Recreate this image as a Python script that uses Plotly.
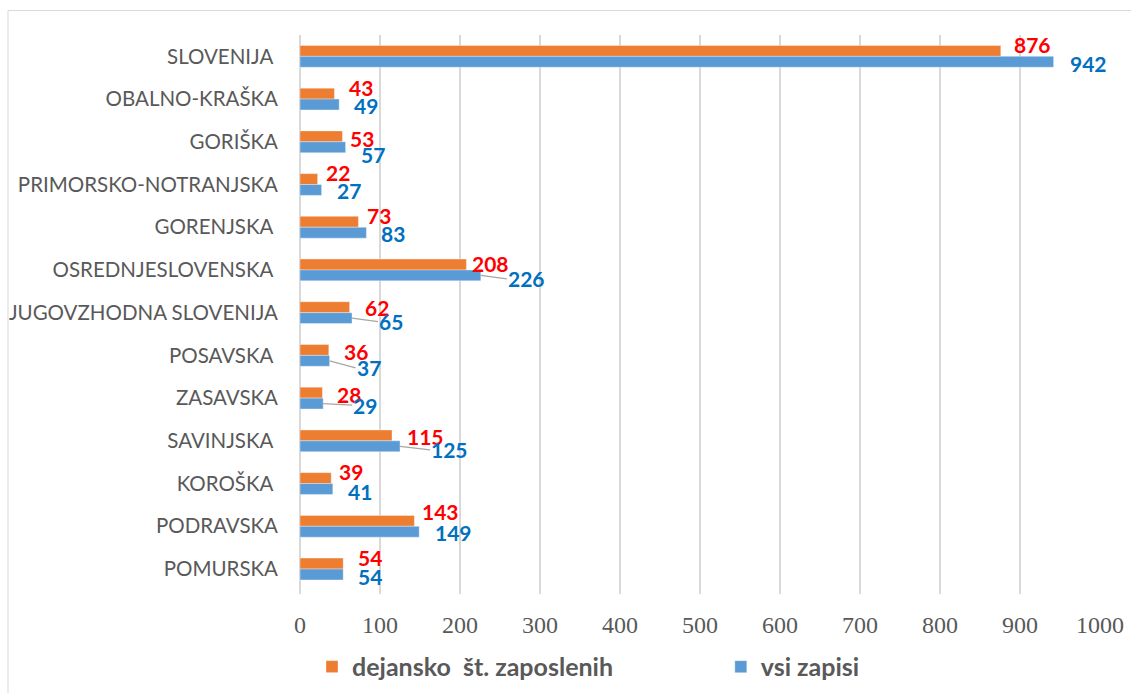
import plotly.graph_objects as go

# ---- data (top to bottom as displayed) ----
categories = ["SLOVENIJA", "OBALNO-KRAŠKA", "GORIŠKA", "PRIMORSKO-NOTRANJSKA", "GORENJSKA",
              "OSREDNJESLOVENSKA", "JUGOVZHODNA SLOVENIJA", "POSAVSKA", "ZASAVSKA",
              "SAVINJSKA", "KOROŠKA", "PODRAVSKA", "POMURSKA"]
tick_labels = ["SLOVENIJA\u00a0", "OBALNO-KRAŠKA", "GORIŠKA", "PRIMORSKO-NOTRANJSKA", "GORENJSKA\u00a0",
               "OSREDNJESLOVENSKA\u00a0", "JUGOVZHODNA SLOVENIJA", "POSAVSKA\u00a0", "ZASAVSKA",
               "SAVINJSKA\u00a0", "KOROŠKA\u00a0", "PODRAVSKA", "POMURSKA"]
dejansko = [876, 43, 53, 22, 73, 208, 62, 36, 28, 115, 39, 143, 54]
vsi_zapisi = [942, 49, 57, 27, 83, 226, 65, 37, 29, 125, 41, 149, 54]
x_ticks = [0, 100, 200, 300, 400, 500, 600, 700, 800, 900, 1000]
series_names = ["dejansko\u00a0 št. zaposlenih", "vsi zapisi"]

# ---- label placement styling (pixel offsets from bar end / bar centre) ----
o_dx = [12, 14, 7, 7, 8, 5, 14, 14, 14, 14, 7, 7, 14]
o_dy = [-6.5, -6, 2, -7, -6.5, -1, 0, 1.5, 1.5, 1, -6.5, -9.5, -6]
b_dx = [15, 14, 14, 14, 14, 26, 26, 26, 29, 30, 14, 15, 14]
b_dy = [1.3, 1, 7.5, 0.5, 0.5, 3.5, 3.5, 7, 1.5, 3.5, 2, 0.5, 2]
b_leader = [False, False, False, False, False, True, True, True, True, True, False, False, False]

ORANGE = "#ED7D31"
BLUE = "#5B9BD5"
GREY_TXT = "#595959"
GRID = "#D9D9D9"

fig = go.Figure()
fig.add_trace(go.Bar(
    y=categories, x=dejansko, orientation="h", name=series_names[0],
    marker=dict(color=ORANGE, line=dict(color="rgba(255,255,255,0.35)", width=1)),
    hoverinfo="x+y", legend="legend"))
fig.add_trace(go.Bar(
    y=categories, x=vsi_zapisi, orientation="h", name=series_names[1],
    marker=dict(color=BLUE, line=dict(color="rgba(255,255,255,0.35)", width=1)),
    hoverinfo="x+y", legend="legend2"))

annotations = []
for i, c in enumerate(categories):
    annotations.append(dict(
        x=dejansko[i], y=c, xref="x", yref="y", text=str(dejansko[i]),
        showarrow=True, arrowhead=0, arrowwidth=1, arrowcolor="rgba(0,0,0,0)",
        ax=o_dx[i], ay=o_dy[i], xanchor="left", yanchor="middle", yshift=5.5,
        borderpad=0, font=dict(family="Lato", size=21, color="#FF0000", weight="bold")))
    annotations.append(dict(
        x=vsi_zapisi[i], y=c, xref="x", yref="y", text=str(vsi_zapisi[i]),
        showarrow=True, arrowhead=0, arrowwidth=1.2,
        arrowcolor="#A6A6A6" if b_leader[i] else "rgba(0,0,0,0)",
        ax=b_dx[i], ay=b_dy[i], xanchor="left", yanchor="middle", yshift=-5.5,
        borderpad=0, font=dict(family="Lato", size=21, color="#0070C0", weight="bold")))

shapes = [
    dict(type="line", xref="paper", yref="paper", x0=-0.365, x1=-0.365, y0=1.0438, y1=-0.2,
         line=dict(color=GRID, width=1)),
    dict(type="line", xref="paper", yref="paper", x0=-0.365, x1=1.05, y0=1.0438, y1=1.0438,
         line=dict(color=GRID, width=1)),
]

legend_font = dict(family="Lato", size=25, color=GREY_TXT, weight="bold")

fig.update_layout(
    width=1131, height=693,
    margin=dict(l=300, r=31, t=34.5, b=98.5, autoexpand=False),
    paper_bgcolor="white", plot_bgcolor="white",
    barmode="group", bargap=0.49, bargroupgap=0,
    showlegend=True,
    legend=dict(orientation="h", x=0.015, y=-0.1304, xanchor="left", yanchor="middle",
                font=legend_font, bgcolor="rgba(0,0,0,0)"),
    legend2=dict(orientation="h", x=0.526, y=-0.1304, xanchor="left", yanchor="middle",
                 font=legend_font, bgcolor="rgba(0,0,0,0)"),
    annotations=annotations, shapes=shapes,
    xaxis=dict(range=[0, 1000], tickmode="array", tickvals=x_ticks,
               showgrid=True, gridcolor=GRID, gridwidth=2,
               zeroline=True, zerolinecolor=GRID, zerolinewidth=2,
               showline=False, ticks="", ticklabelstandoff=14, ticklabeloverflow="allow",
               tickfont=dict(family="Liberation Serif", size=24, color=GREY_TXT)),
    yaxis=dict(categoryorder="array", categoryarray=categories, autorange="reversed",
               tickmode="array", tickvals=categories, ticktext=tick_labels,
               showgrid=False, zeroline=False, showline=False, ticks="",
               ticklabelstandoff=21,
               tickfont=dict(family="Lato", size=20.5, color=GREY_TXT)),
)

fig.write_html(
    "out.html",
    config={"displayModeBar": False},
    post_script="document.body.style.margin='0';document.body.style.padding='0';"
                "document.body.style.overflow='hidden';",
)
